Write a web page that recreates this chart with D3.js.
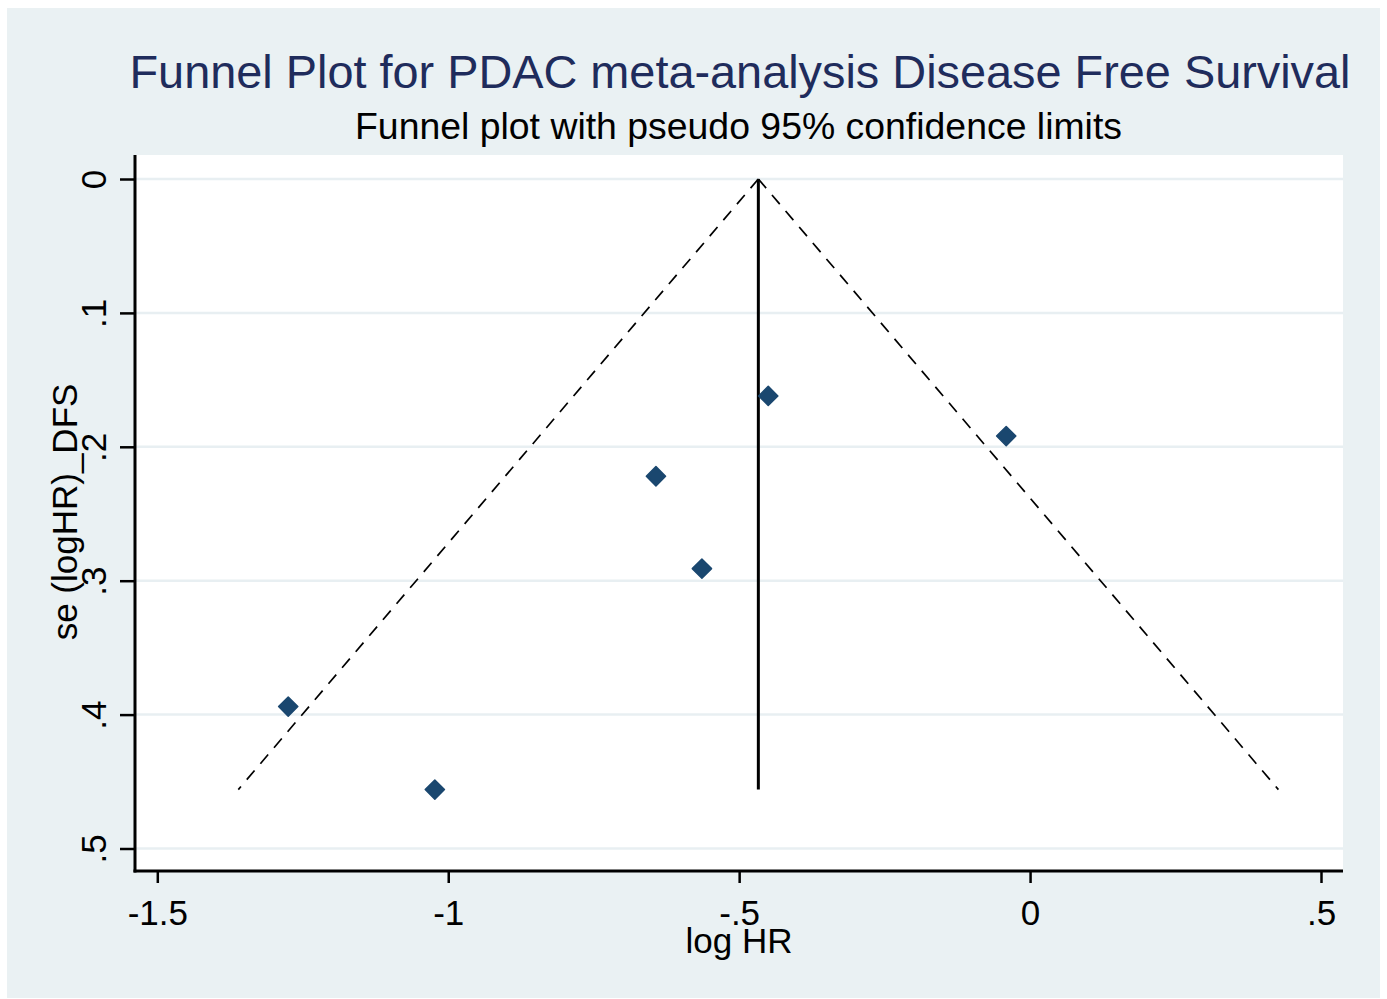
<!DOCTYPE html>
<html>
<head>
<meta charset="utf-8">
<script src="https://cdn.jsdelivr.net/npm/d3@7"></script>
<style>
  html, body { margin: 0; padding: 0; background: #ffffff; }
  svg { display: block; }
  text { font-family: "Liberation Sans", Arial, sans-serif; }
</style>
</head>
<body>
<svg id="chart" width="1387" height="999"></svg>
<script>
// Study-level estimates: log hazard ratio and its standard error (DFS)
const logHR = [-0.450, -0.041, -0.643, -0.564, -1.275, -1.023];
const seLogHR = [0.162, 0.192, 0.222, 0.291, 0.394, 0.456];

// Pooled (fixed-effect) log HR drawn as the funnel centre
const pooledLogHR = -0.467;

// Axis ticks and labels
const xTicks = [-1.5, -1, -0.5, 0, 0.5];
const xTickLabels = ["-1.5", "-1", "-.5", "0", ".5"];
const yTicks = [0, 0.1, 0.2, 0.3, 0.4, 0.5];
const yTickLabels = ["0", ".1", ".2", ".3", ".4", ".5"];

const titleText = "Funnel Plot for PDAC meta-analysis Disease Free Survival";
const subtitleText = "Funnel plot with pseudo 95% confidence limits";
const xTitle = "log HR";
const yTitle = "se (logHR)_DFS";

const svg = d3.select("#chart");

// Graph region background
svg.append("rect")
  .attr("x", 7).attr("y", 8).attr("width", 1373).attr("height", 990)
  .attr("fill", "#eaf1f3");

// Plot region
const plot = { left: 135, right: 1343, top: 155, bottom: 871 };
svg.append("rect")
  .attr("x", plot.left).attr("y", plot.top)
  .attr("width", plot.right - plot.left).attr("height", plot.bottom - plot.top)
  .attr("fill", "#ffffff");

const x = d3.scaleLinear().domain([-1.5, 0.5]).range([157.3, 1321]);
const y = d3.scaleLinear().domain([0, 0.5]).range([179, 848.5]);

// Horizontal grid lines
svg.append("g")
  .selectAll("line")
  .data(yTicks)
  .join("line")
  .attr("x1", plot.left).attr("x2", plot.right)
  .attr("y1", d => y(d)).attr("y2", d => y(d))
  .attr("stroke", "#e8eff2").attr("stroke-width", 2.5);

// Y axis
const yAxis = d3.axisLeft(y)
  .tickValues(yTicks)
  .tickFormat((d, i) => yTickLabels[i])
  .tickSize(15)
  .tickPadding(0);
const gy = svg.append("g").attr("transform", `translate(${plot.left},0)`).call(yAxis);
gy.select(".domain").remove();
gy.selectAll(".tick line").attr("stroke", "#000").attr("stroke-width", 2.5);
gy.selectAll(".tick text")
  .attr("x", 0).attr("y", 0).attr("dy", 0)
  .attr("transform", "translate(-29,0) rotate(-90)")
  .attr("text-anchor", "middle")
  .attr("font-size", 35)
  .attr("fill", "#000");
svg.append("line")
  .attr("x1", plot.left).attr("x2", plot.left)
  .attr("y1", plot.top).attr("y2", plot.bottom + 1.5)
  .attr("stroke", "#000").attr("stroke-width", 3);

// X axis
const xAxis = d3.axisBottom(x)
  .tickValues(xTicks)
  .tickFormat((d, i) => xTickLabels[i])
  .tickSize(12)
  .tickPadding(0);
const gx = svg.append("g").attr("transform", `translate(0,${plot.bottom})`).call(xAxis);
gx.select(".domain").remove();
gx.selectAll(".tick line").attr("stroke", "#000").attr("stroke-width", 2.5);
gx.selectAll(".tick text")
  .attr("y", 54).attr("dy", 0)
  .attr("text-anchor", "middle")
  .attr("font-size", 35)
  .attr("fill", "#000");
svg.append("line")
  .attr("x1", plot.left - 1.5).attr("x2", plot.right)
  .attr("y1", plot.bottom).attr("y2", plot.bottom)
  .attr("stroke", "#000").attr("stroke-width", 3);

// Pseudo 95% confidence limits
const seMax = d3.max(seLogHR);
const funnelLeft = [[pooledLogHR, 0], [pooledLogHR - 1.96 * seMax, seMax]];
const funnelRight = [[pooledLogHR, 0], [pooledLogHR + 1.96 * seMax, seMax]];
const line = d3.line().x(d => x(d[0])).y(d => y(d[1]));
[funnelLeft, funnelRight].forEach(pts => {
  svg.append("path")
    .attr("d", line(pts))
    .attr("fill", "none")
    .attr("stroke", "#000")
    .attr("stroke-width", 1.7)
    .attr("stroke-dasharray", "12,9");
});

// Pooled estimate line
svg.append("path")
  .attr("d", line([[pooledLogHR, 0], [pooledLogHR, seMax]]))
  .attr("stroke", "#000")
  .attr("stroke-width", 3);

// Study markers (diamonds)
const diamond = d3.symbol().type(d3.symbolSquare).size(185);
svg.append("g")
  .selectAll("path")
  .data(logHR.map((v, i) => ({ v, se: seLogHR[i] })))
  .join("path")
  .attr("d", diamond)
  .attr("transform", d => `translate(${x(d.v)},${y(d.se)}) rotate(45)`)
  .attr("fill", "#1a476f")
  .attr("stroke", "#1a476f")
  .attr("stroke-width", 1.5)
  .attr("stroke-linejoin", "round");

// Titles
svg.append("text")
  .attr("x", 740).attr("y", 88)
  .attr("text-anchor", "middle")
  .attr("font-size", 47)
  .attr("fill", "#1f2c5c")
  .attr("textLength", 1221)
  .attr("lengthAdjust", "spacingAndGlyphs")
  .text(titleText);

svg.append("text")
  .attr("x", 738.5).attr("y", 139)
  .attr("text-anchor", "middle")
  .attr("font-size", 37.5)
  .attr("fill", "#000")
  .attr("textLength", 767)
  .attr("lengthAdjust", "spacingAndGlyphs")
  .text(subtitleText);

// Axis titles
svg.append("text")
  .attr("x", 739).attr("y", 953)
  .attr("text-anchor", "middle")
  .attr("font-size", 35)
  .attr("fill", "#000")
  .text(xTitle);

svg.append("text")
  .attr("transform", "translate(77,512) rotate(-90)")
  .attr("text-anchor", "middle")
  .attr("font-size", 35)
  .attr("fill", "#000")
  .text(yTitle);
</script>
</body>
</html>
